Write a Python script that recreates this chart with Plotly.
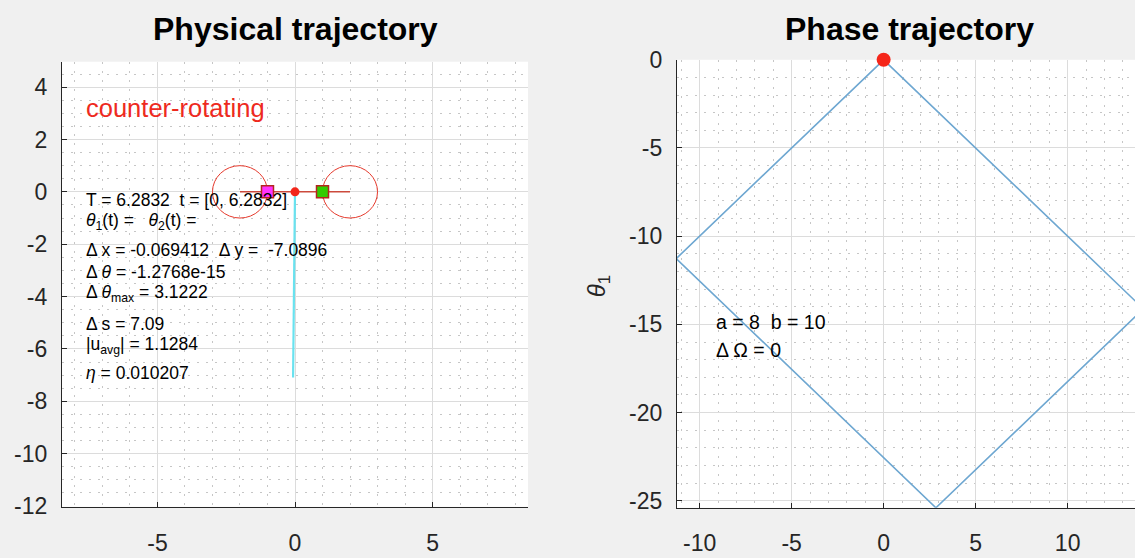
import plotly.graph_objects as go

# ---------------- data ----------------
# physical trajectory (body path)
traj_x = [0.0, -0.069412]
traj_y = [0.0, -7.0896]
# rotor arm line and positions
arm_x = [-2.0, 2.0]
arm_y = [0.0, 0.0]
body_x = [0.0]
body_y = [0.0]
rotor1_x = [-1.0]
rotor1_y = [0.0]
rotor2_x = [1.0]
rotor2_y = [0.0]
circle_cx = [-2.0, 2.0]
circle_cy = [0.0, 0.0]
circle_r = [1.0, 1.0]

# phase trajectory (theta2, theta1)
phase_x = [0.0, -11.27, 2.84, 14.12, 0.0]
phase_y = [0.0, -11.27, -25.4, -14.12, 0.0]
phase_start_x = [0.0]
phase_start_y = [0.0]

# tick labels
x1_ticks = [-5, 0, 5]
x1_labels = ["-5", "0", "5"]
y1_ticks = [-12, -10, -8, -6, -4, -2, 0, 2, 4]
y1_labels = ["-12", "-10", "-8", "-6", "-4", "-2", "0", "2", "4"]
x2_ticks = [-10, -5, 0, 5, 10]
x2_labels = ["-10", "-5", "0", "5", "10"]
y2_ticks = [-25, -20, -15, -10, -5, 0]
y2_labels = ["-25", "-20", "-15", "-10", "-5", "0"]

info_lines = [
    "T = 6.2832\u00a0 t = [0, 6.2832]",
    "<i>θ</i><sub>1</sub>(t) = \u00a0 <i>θ</i><sub>2</sub>(t) =",
    "Δ x = -0.069412\u00a0 Δ y = \u00a0-7.0896",
    "Δ <i>θ</i> = -1.2768e-15",
    "Δ <i>θ</i><sub>max</sub> = 3.1222",
    "Δ s = 7.09",
    "|u<sub>avg</sub>| = 1.1284",
    "<i>η</i> = 0.010207",
]
info_y = [-0.32, -1.12, -2.22, -3.05, -3.90, -5.03, -5.87, -6.93]
info_x = -7.66

phase_lines = ["a = 8\u00a0 b = 10", "Δ Ω = 0"]
phase_text_y = [-14.85, -16.45]
phase_text_x = -9.24

# ---------------- figure ----------------
W, H = 1135, 558
FONT = "Liberation Sans, Arial, Helvetica, sans-serif"
TXT = "#262626"
GRID = "#dcdcdc"
MINOR = "#c6c6c6"

fig = go.Figure()

fig.add_trace(go.Scatter(x=traj_x, y=traj_y, mode="lines",
                         line=dict(color="#69e2ef", width=2.2),
                         xaxis="x", yaxis="y", showlegend=False))
fig.add_trace(go.Scatter(x=arm_x, y=arm_y, mode="lines",
                         line=dict(color="#cc4a3c", width=1.5),
                         xaxis="x", yaxis="y", showlegend=False))
fig.add_trace(go.Scatter(x=rotor1_x, y=rotor1_y, mode="markers",
                         marker=dict(symbol="square", size=12, color="#ff33ff",
                                     line=dict(color="#b3261e", width=1.5)),
                         xaxis="x", yaxis="y", showlegend=False))
fig.add_trace(go.Scatter(x=rotor2_x, y=rotor2_y, mode="markers",
                         marker=dict(symbol="square", size=12, color="#33cc00",
                                     line=dict(color="#b3261e", width=1.5)),
                         xaxis="x", yaxis="y", showlegend=False))
fig.add_trace(go.Scatter(x=body_x, y=body_y, mode="markers",
                         marker=dict(size=9, color="#f2261a"),
                         xaxis="x", yaxis="y", showlegend=False))

fig.add_trace(go.Scatter(x=phase_x, y=phase_y, mode="lines",
                         line=dict(color="#6ea7d1", width=1.6),
                         xaxis="x2", yaxis="y2", showlegend=False))
fig.add_trace(go.Scatter(x=phase_start_x, y=phase_start_y, mode="markers",
                         marker=dict(size=14, color="#f5261a"), cliponaxis=False,
                         xaxis="x2", yaxis="y2", showlegend=False))

for cx, cy, r in zip(circle_cx, circle_cy, circle_r):
    fig.add_shape(type="circle", xref="x", yref="y",
                  x0=cx - r, x1=cx + r, y0=cy - r, y1=cy + r,
                  line=dict(color="#e5392c", width=1), layer="between")

def ax(domain, rng, tv, tt, mdtick, anchor, standoff):
    return dict(domain=domain, range=rng, tickmode="array", tickvals=tv, ticktext=tt,
                showgrid=True, gridcolor=GRID, gridwidth=1,
                minor=dict(tick0=0, dtick=mdtick, showgrid=True, gridcolor=MINOR,
                           griddash="2px,7px", gridwidth=1),
                showline=True, linecolor=TXT, linewidth=1.2, mirror=False,
                ticks="inside", ticklen=5, tickcolor=TXT,
                tickfont=dict(family=FONT, size=23, color=TXT),
                ticklabelstandoff=standoff, zeroline=False, anchor=anchor,
                fixedrange=True)

fig.update_layout(
    width=W, height=H,
    margin=dict(l=0, r=0, t=0, b=0),
    paper_bgcolor="#f0f0f0",
    plot_bgcolor="#ffffff",
    xaxis=ax([62 / W, 528 / W], [-8.47, 8.47], x1_ticks, x1_labels, 1, "y", 15),
    yaxis=ax([(H - 517) / H, (H - 51) / H], [-12.03, 4.97], y1_ticks, y1_labels, 0.5, "x", 9),
    xaxis2=ax([677 / W, 1.0], [-11.23, 13.66], x2_ticks, x2_labels, 1, "y2", 15),
    yaxis2=ax([(H - 518) / H, (H - 49) / H], [-25.4, 0], y2_ticks, y2_labels, 1, "x2", 9),
    showlegend=False,
)

ann = []
ann.append(dict(text="<b>Physical trajectory</b>", xref="paper", yref="paper",
                x=295 / W, y=(H - 17) / H, xanchor="center", yanchor="middle",
                showarrow=False, font=dict(family=FONT, size=32, color="#000000")))
ann.append(dict(text="<b>Phase trajectory</b>", xref="paper", yref="paper",
                x=909 / W, y=(H - 17) / H, xanchor="center", yanchor="middle",
                showarrow=False, font=dict(family=FONT, size=32, color="#000000")))
ann.append(dict(text="counter-rotating", xref="x", yref="y", x=-7.66, y=3.2,
                xanchor="left", yanchor="middle", showarrow=False,
                font=dict(family=FONT, size=25.5, color="#ee2a1e")))
for t, yy in zip(info_lines, info_y):
    ann.append(dict(text=t, xref="x", yref="y", x=info_x, y=yy,
                    xanchor="left", yanchor="middle", showarrow=False,
                    font=dict(family=FONT, size=17.5, color="#000000")))
for t, yy in zip(phase_lines, phase_text_y):
    ann.append(dict(text=t, xref="x2", yref="y2", x=phase_text_x, y=yy,
                    xanchor="left", yanchor="middle", showarrow=False,
                    font=dict(family=FONT, size=19.5, color="#000000")))
ann.append(dict(text="<i>θ</i><sub>1</sub>", xref="paper", yref="paper",
                x=598 / W, y=(H - 286) / H, xanchor="center", yanchor="middle",
                textangle=-90, showarrow=False,
                font=dict(family=FONT, size=24, color=TXT)))
fig.update_layout(annotations=ann)

fig.write_html("out.html")
